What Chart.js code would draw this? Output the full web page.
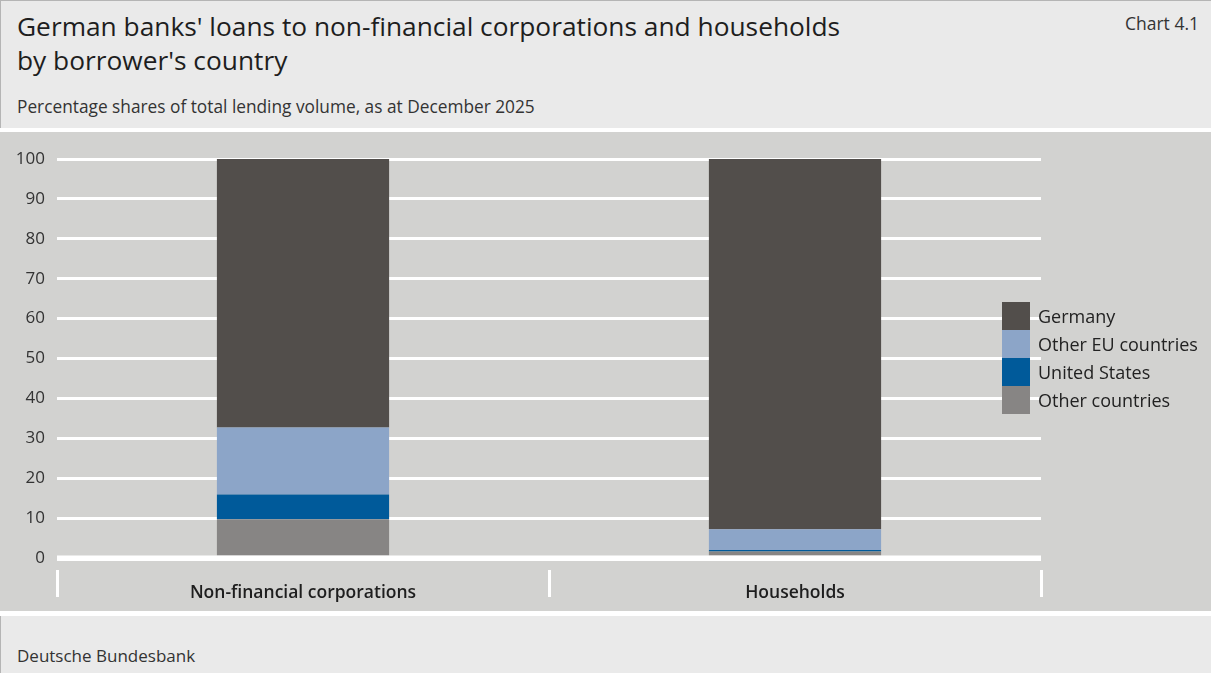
<!DOCTYPE html>
<html>
<head>
<meta charset="utf-8">
<script src="https://cdn.jsdelivr.net/npm/chart.js@4.4.1/dist/chart.umd.min.js"></script>
<style>
  html, body { margin: 0; padding: 0; }
  body { width: 1211px; height: 673px; position: relative; background: #eaeaea; overflow: hidden;
         font-family: "Open Sans", "Noto Sans", sans-serif; color: #222; }
  .frame { position: absolute; left: 0; top: 0; width: 1211px; height: 673px; box-sizing: border-box;
           border-left: 1px solid #b5b5b5; border-top: 1px solid #b5b5b5; }
  .title { position: absolute; left: 17px; top: 9px; font-size: 26.3px; line-height: 34px; color: #1e1e1e; }
  .chartno { position: absolute; right: 12px; top: 11px; font-size: 17.5px; color: #333; }
  .subtitle { position: absolute; left: 17px; top: 95px; font-size: 17.3px; color: #333; }
  .band { position: absolute; left: 0; top: 128px; width: 1211px; height: 479px; background: #d2d2d0;
          border-top: 4px solid #fff; border-bottom: 5px solid #fff; }
  .plot { position: absolute; left: 0; top: 132px; width: 1211px; height: 479px; }
  .footer { position: absolute; left: 17px; top: 644px; font-size: 17px; color: #333; }
  .legend { position: absolute; left: 1002px; top: 302px; }
  .legend .item { height: 28px; display: flex; align-items: center; }
  .legend .box { width: 28px; height: 28px; margin-right: 8px; }
  .legend .txt { font-size: 18px; color: #222; }
</style>
</head>
<body>
<div class="frame"></div>
<div class="title">German banks' loans to non-financial corporations and households<br>by borrower's country</div>
<div class="chartno">Chart 4.1</div>
<div class="subtitle">Percentage shares of total lending volume, as at December 2025</div>
<div class="band"></div>
<div class="plot"><canvas id="c" width="1211" height="479"></canvas></div>
<div class="legend" id="legend"></div>
<div class="footer">Deutsche Bundesbank</div>
<script>
// Borrower groups (x categories)
const categories = ["Non-financial corporations", "Households"];

// Shares of total lending volume, % (December 2025)
const germany        = [67.3, 92.8];
const otherEU        = [16.8, 5.2];
const unitedStates   = [6.2, 0.4];
const otherCountries = [9.7, 1.6];

// Series names and fill colours (legend order, top to bottom)
const seriesNames  = ["Germany", "Other EU countries", "United States", "Other countries"];
const seriesColors = ["#524e4b", "#8ca5c8", "#005a9a", "#878584"];

// Y-axis tick values
const yTicks = [0, 10, 20, 30, 40, 50, 60, 70, 80, 90, 100];

const seriesValues = [germany, otherEU, unitedStates, otherCountries];

// Stack from the bottom up: other countries, US, other EU, Germany
const datasets = seriesNames.map((name, i) => ({
  label: name,
  data: seriesValues[i],
  backgroundColor: seriesColors[i],
  borderWidth: 0,
  barPercentage: 0.35,
  categoryPercentage: 1.0
})).reverse();

const FONT = '"Open Sans", "Noto Sans", sans-serif';

new Chart(document.getElementById('c'), {
  type: 'bar',
  data: { labels: categories, datasets },
  options: {
    responsive: false,
    animation: false,
    layout: { padding: { top: 27, right: 170, bottom: 0, left: 0 } },
    plugins: { legend: { display: false }, tooltip: { enabled: false } },
    scales: {
      x: {
        stacked: true,
        offset: true,
        border: { display: false },
        grid: {
          offset: true,
          drawOnChartArea: false,
          drawTicks: true,
          tickLength: 40,
          tickWidth: 3,
          tickColor: '#ffffff',
          tickBorderDash: [0, 12, 27, 200]
        },
        ticks: {
          padding: -15,
          color: '#1e1e1e',
          font: { family: FONT, size: 17.5, weight: '600' }
        },
        afterFit: s => { s.height = 53; }
      },
      y: {
        stacked: true,
        min: 0,
        max: 100,
        border: { display: false },
        afterBuildTicks: s => { s.ticks = yTicks.map(v => ({ value: v })); },
        grid: {
          color: '#ffffff',
          lineWidth: ctx => (ctx.tick && ctx.tick.value === 0 ? 5 : 3),
          drawTicks: false
        },
        ticks: {
          padding: 12,
          color: '#333333',
          font: { family: FONT, size: 17 }
        },
        afterFit: s => { s.width = 57; }
      }
    }
  },
  plugins: [{
    // redraw the zero baseline above the bars
    id: 'zeroLine',
    afterDatasetsDraw(chart) {
      const { ctx, chartArea, scales } = chart;
      const y = scales.y.getPixelForValue(0);
      ctx.save();
      ctx.strokeStyle = '#ffffff';
      ctx.lineWidth = 5;
      ctx.beginPath();
      ctx.moveTo(chartArea.left, y);
      ctx.lineTo(chartArea.right, y);
      ctx.stroke();
      ctx.restore();
    }
  }]
});

// Legend built from the series arrays
const legend = document.getElementById('legend');
seriesNames.forEach((name, i) => {
  const item = document.createElement('div');
  item.className = 'item';
  item.innerHTML = '<div class="box" style="background:' + seriesColors[i] + '"></div><div class="txt">' + name + '</div>';
  legend.appendChild(item);
});
</script>
</body>
</html>
